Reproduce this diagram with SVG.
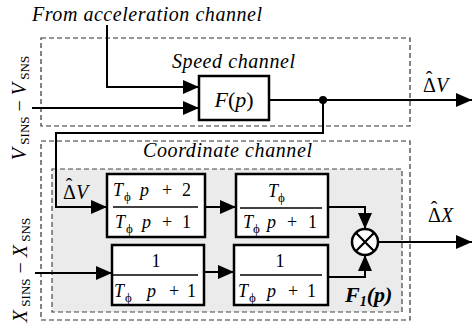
<svg xmlns="http://www.w3.org/2000/svg" width="472" height="328" viewBox="0 0 472 328">
<style>
text{font-family:"Liberation Serif","Times New Roman","DejaVu Serif",serif;fill:#000}
.it{font-style:italic}
.l20{font-size:20px}
.f18{font-size:18px}
.sub{font-size:13px;font-style:normal}
.box{fill:#fff;stroke:#000;stroke-width:2.5}
.wire{fill:none;stroke:#000;stroke-width:2}
.arr{marker-end:url(#ah)}
.dash{fill:none;stroke:#333;stroke-width:1.2;stroke-dasharray:5 3}
.frac{stroke:#000;stroke-width:1.5}
</style>
<defs>
<marker id="ah" markerUnits="userSpaceOnUse" markerWidth="16" markerHeight="14" refX="16" refY="7" orient="auto">
<path d="M0,0 L16,7 L0,14 Z" fill="#000"/>
</marker>
</defs>
<rect width="472" height="328" fill="#fff"/>

<g id="speed-channel">
<rect class="dash" x="41" y="38" width="369" height="88"/>
<text class="it l20" x="172" y="68" textLength="123">Speed channel</text>
</g>
<g id="coordinate-channel">
<rect class="dash" x="41" y="141" width="369" height="179"/>
<text class="it l20" x="143" y="157" textLength="169">Coordinate channel</text>
</g>
<g id="F1-region">
<rect x="52" y="169" width="350" height="143" fill="#ebebeb" stroke="#444" stroke-width="1.2" stroke-dasharray="5 3"/>
<text class="it" x="345" y="302" font-size="22" font-weight="bold">F<tspan font-size="14" y="306">1</tspan><tspan y="302">(p)</tspan></text>
</g>

<g id="labels">
<text class="it l20" x="32" y="21" textLength="230">From acceleration channel</text>
<text class="l20" transform="translate(26,108) rotate(-90)" text-anchor="middle"><tspan class="it">V</tspan><tspan class="sub" dy="3"> SINS</tspan><tspan dy="-3"> − </tspan><tspan class="it">V</tspan><tspan class="sub" dy="3"> SNS</tspan></text>
<text class="l20" transform="translate(27,270) rotate(-90)" text-anchor="middle"><tspan class="it">X</tspan><tspan class="sub" dy="3"> SINS</tspan><tspan dy="-3"> − </tspan><tspan class="it">X</tspan><tspan class="sub" dy="3"> SNS</tspan></text>
<text class="l20"><tspan x="423" y="92">Δ</tspan><tspan x="429" y="86" text-anchor="middle">ˆ</tspan><tspan class="it" x="436" y="92">V</tspan></text>
<text class="l20"><tspan x="63" y="199">Δ</tspan><tspan x="69" y="193" text-anchor="middle">ˆ</tspan><tspan class="it" x="76" y="199">V</tspan></text>
<text class="l20"><tspan x="428" y="222">Δ</tspan><tspan x="434" y="216" text-anchor="middle">ˆ</tspan><tspan class="it" x="441" y="222">X</tspan></text>
</g>

<g id="connectors">
<path class="wire arr" d="M107,25 V87 H199"/>
<path class="wire arr" d="M32,108 H199"/>
<path class="wire arr" d="M269,100 H472"/>
<circle cx="323" cy="100" r="4" fill="#000"/>
<path class="wire arr" d="M323,100 V133 H56 V207 H107"/>
<path class="wire arr" d="M205,207 H236"/>
<path class="wire arr" d="M35,273 H112"/>
<path class="wire arr" d="M204,272 H234"/>
<path class="wire arr" d="M328,207 H365 V229"/>
<path class="wire arr" d="M328,277 H365 V255"/>
<path class="wire arr" d="M378,242 H472"/>
</g>

<g id="F">
<rect class="box" x="199" y="76" width="70" height="44"/>
<text x="234" y="107" font-size="22" text-anchor="middle"><tspan class="it">F</tspan>(<tspan class="it">p</tspan>)</text>
</g>

<g id="block1">
<rect class="box" x="107" y="174" width="98" height="63"/>
<line class="frac" x1="113" y1="207" x2="198" y2="207"/>
<text class="f18"><tspan class="it" x="113" y="196">T</tspan><tspan class="sub" x="124" y="201">ϕ</tspan><tspan class="it" x="140" y="196">p</tspan><tspan x="162" y="196">+</tspan><tspan x="182" y="196">2</tspan></text>
<text class="f18"><tspan class="it" x="115" y="228">T</tspan><tspan class="sub" x="126" y="233">ϕ</tspan><tspan class="it" x="142" y="228">p</tspan><tspan x="162" y="228">+</tspan><tspan x="182" y="228">1</tspan></text>
</g>

<g id="block2">
<rect class="box" x="236" y="174" width="92" height="63"/>
<line class="frac" x1="240" y1="208" x2="322" y2="208"/>
<text class="f18"><tspan class="it" x="268" y="197">T</tspan><tspan class="sub" x="278" y="202">ϕ</tspan></text>
<text class="f18"><tspan class="it" x="243" y="228">T</tspan><tspan class="sub" x="253" y="233">ϕ</tspan><tspan class="it" x="267" y="228">p</tspan><tspan x="287" y="228">+</tspan><tspan x="308" y="228">1</tspan></text>
</g>

<g id="block3">
<rect class="box" x="112" y="245" width="92" height="60"/>
<line class="frac" x1="113" y1="275" x2="198" y2="275"/>
<text class="f18" x="156" y="267" text-anchor="middle">1</text>
<text class="f18"><tspan class="it" x="114" y="297">T</tspan><tspan class="sub" x="125" y="302">ϕ</tspan><tspan class="it" x="147" y="297">p</tspan><tspan x="169" y="297">+</tspan><tspan x="187" y="297">1</tspan></text>
</g>

<g id="block4">
<rect class="box" x="234" y="245" width="94" height="60"/>
<line class="frac" x1="240" y1="275" x2="322" y2="275"/>
<text class="f18" x="280" y="267" text-anchor="middle">1</text>
<text class="f18"><tspan class="it" x="238" y="297">T</tspan><tspan class="sub" x="249" y="302">ϕ</tspan><tspan class="it" x="267" y="297">p</tspan><tspan x="288" y="297">+</tspan><tspan x="307" y="297">1</tspan></text>
</g>

<g id="multiplier">
<circle cx="365" cy="242" r="13" fill="#fff" stroke="#000" stroke-width="2.5"/>
<path d="M355.8,232.8 L374.2,251.2 M374.2,232.8 L355.8,251.2" stroke="#000" stroke-width="2.2"/>
</g>
</svg>
